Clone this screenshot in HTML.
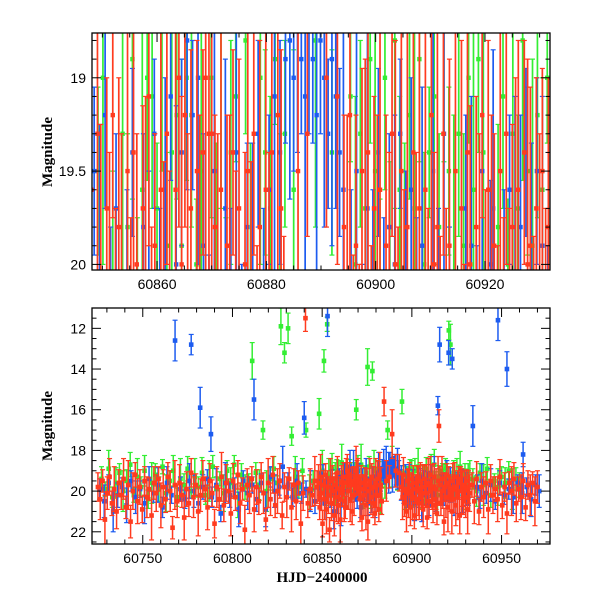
<!DOCTYPE html>
<html><head><meta charset="utf-8"><style>
html,body{margin:0;padding:0;background:#fff;width:600px;height:600px;overflow:hidden;position:relative;}
svg{display:block;position:absolute;left:0;top:0;overflow:hidden;}
.tl{font-family:"Liberation Sans",sans-serif;font-size:14px;fill:#000;}
.ti{font-family:"Liberation Serif",serif;font-weight:bold;font-size:15px;fill:#000;}
</style></head><body>
<svg id="chart" width="600" height="600" viewBox="0 0 600 600" xmlns="http://www.w3.org/2000/svg">
<text class="ti" transform="translate(52,152) rotate(-90)" text-anchor="middle">Magnitude</text>
<text class="ti" transform="translate(52,426) rotate(-90)" text-anchor="middle">Magnitude</text>
<text class="ti" x="322" y="582" text-anchor="middle">HJD−2400000</text>
</svg>
<script>
// Times are HJD-2400000 offsets from 60700
const timeBase=60700;
const redT=("25 26.3 27.6 28.9 30.2 31.5 32.8 34.1 35.4 36.7 38 39.3 40.6 41.9 43.2 44.5 45.8 47.1 48.4 49.7 51 52.3 53.6 54.9 56.2 57.5 58.8 60.1 61.4 62.7 64 65.3 66.6 67.9 69.2 70.5 71.8 73.1 74.4 75.7 77 78.3 79.6 80.9 82.2 83.5 84.8 86.1 87.4 88.7 90 91.3 92.6 93.9 95.2 96.5 97.8 99.1 100.4 101.7 103 104.3 105.6 106.9 108.2 109.5 110.8 112.1 113.4 114.7 116 117.3 118.6 119.9 121.2 122.5 123.8 125.1 126.4 127.7 129 130.3 131.6 132.9 134.2 135.5 136.8 138.1 139.4 140.7 142 143.3 144.6 145.9 147.2 "+
"148 148.6 149.1 149.7 150.2 150.8 151.3 151.9 152.4 153 153.5 154.1 154.6 155.2 155.7 156.3 156.8 157.4 157.9 158.5 159 159.6 160.1 160.7 161.2 161.8 162.3 162.9 163.4 164 164.5 165.1 165.6 166.2 166.7 167.3 167.8 168.4 168.9 169.5 170 170.6 171.1 171.7 172.2 172.8 173.3 173.9 174.4 175 175.5 176.1 176.6 177.2 177.7 178.3 178.8 179.4 179.9 180.5 181 181.6 182.1 182.7 183.2 184.5 185.8 187.5 189 191 193 194.2 194.8 195.3 195.9 196.4 197 197.5 198.1 198.6 199.2 199.7 200.3 200.8 201.4 201.9 202.5 203 203.6 204.1 204.7 205.2 205.8 206.3 206.9 207.4 208 208.5 209.1 209.6 210.2 210.7 211.3 211.8 212.4 212.9 213.5 214 214.6 215.1 215.7 216.2 216.8 217.3 217.9 218.4 219 219.5 220.1 220.6 221.2 221.7 222.3 222.8 223.4 223.9 224.5 225 225.6 226.1 226.7 227.2 227.8 228.3 228.9 229.4 230 230.5 231.1 231.6 232.2 "+
"233.5 234.8 236.1 237.4 238.7 240 241.3 242.6 243.9 245.2 246.5 247.8 249.1 250.4 251.7 253 254.3 255.6 256.9 258.2 259.5 260.8 262.1 263.4 264.7 266 267.3 268.6 270").split(" ").map(Number);
const redM=("19.8 20.4 19.5 21.4 20.1 19.3 20.6 19.9 21.0 19.6 20.2 19.4 20.8 19.7 21.5 20.0 19.2 20.5 19.8 20.9 19.5 20.3 19.9 21.2 19.6 20.1 19.4 20.7 19.8 20.4 19.3 20.0 21.8 19.7 20.5 19.6 20.2 21.3 19.9 20.6 19.1 20.3 19.7 21.0 20.2 19.4 19.9 20.8 19.5 20.1 21.6 19.8 20.4 19.3 20.7 19.6 20.0 21.1 19.5 20.3 19.2 20.6 19.9 21.9 19.7 20.2 19.4 20.9 19.8 20.5 19.3 20.1 21.4 19.6 20.4 19.2 20.7 20.0 19.5 21.2 19.8 20.3 19.4 20.8 19.7 20.5 19.6 21.6 20.1 11.5 20.6 19.9 20.2 19.5 19.8 "+
"19.6 20.8 19.3 20.1 21.6 19.7 20.4 19.2 20.9 19.8 20.2 21.9 19.5 20.6 19.4 20.0 21.2 19.7 20.3 19.1 20.7 19.9 21.4 19.6 20.1 19.3 20.5 20.8 19.6 19.0 20.0 19.2 20.4 19.7 21.0 19.5 20.2 19.4 19.0 19.3 19.3 19.8 20.4 19.6 21.3 19.9 20.2 19.4 20.7 19.7 21.5 20.0 19.5 20.3 19.3 20.6 19.8 21.1 19.6 20.2 19.4 20.9 19.2 19.7 20.5 15.6 19.5 19.3 17.2 19.0 19.1 19.8 20.3 19.2 20.6 19.9 21.0 19.5 20.1 19.4 20.8 19.7 20.3 19.6 21.2 19.9 20.4 19.3 20.0 20.6 19.5 20.2 19.8 20.9 19.4 20.1 19.7 21.3 19.6 20.5 19.2 20.0 19.8 20.7 19.3 20.4 19.9 21.1 19.5 16.8 19.7 20.6 19.4 20.0 21.5 19.8 20.3 19.2 20.8 19.6 20.1 19.9 21.0 19.5 20.4 19.3 20.7 19.8 20.2 19.6 21.2 19.4 20.0 19.9 20.5 19.7 20.3 19.5 20.9 19.8 20.1 "+
"19.7 20.5 19.4 21.0 19.8 20.3 19.6 20.9 19.5 20.2 19.9 20.4 19.3 20.7 19.8 21.1 19.6 20.0 19.4 20.6 19.9 20.3 19.5 20.8 19.7 20.2 19.6 20.5 19.8").split(" ").map(Number);
const redE=[0.7,1.0,0.55,1.2,0.8,0.9,0.6,1.1,0.85,0.65];

const greenT=("27 29 31 33 35 37 39 41 43 45 47 49 51 53 55 57 59 61 63 65 67 69 71 73 75 77 79 81 83 85 87 89 91 93 95 97 99 101 103 105 107 109 111 113 115 117 119 121 123 125 127 129 131 133 135 137 139 141 143 145 "+
"148.3 149.2 150.1 151 151.9 152.8 153.7 154.6 155.5 156.4 157.3 158.2 159.1 160 160.9 161.8 162.7 163.6 164.5 165.4 166.3 167.2 168.1 169 169.9 170.8 171.7 172.6 173.5 174.4 175.3 176.2 177.1 178 178.9 179.8 180.7 181.6 182.5 183.4 185 186.5 189 192 194.5 195.4 196.3 197.2 198.1 199 199.9 200.8 201.7 202.6 203.5 204.4 205.3 206.2 207.1 208 208.9 209.8 210.7 211.6 212.5 213.4 214.3 215.2 216.1 217 217.9 218.8 219.7 220.6 221.5 222.4 223.3 224.2 225.1 226 226.9 227.8 228.7 229.6 230.5 231.4 232.3 "+
"234 236 238 240 242 244 246 248 250 252 254 256 258 260").split(" ").map(Number);
const greenM=("19.4 19.9 18.9 20.3 19.6 19.1 20.0 19.5 18.7 20.2 19.3 19.8 19.0 20.4 19.6 19.2 19.9 18.8 20.1 19.5 19.0 20.3 19.4 19.7 18.9 20.0 19.3 19.8 19.1 20.2 19.5 18.8 19.9 19.4 20.1 19.0 19.6 18.7 20.3 19.2 19.8 19.5 13.6 19.1 19.7 17.0 20.0 19.4 18.9 19.6 11.9 13.2 12.0 17.3 19.3 19.8 19.0 17.0 20.1 19.5 "+
"16.2 19.5 19.0 13.6 20.1 11.8 19.3 19.8 18.9 20.2 19.6 19.0 19.1 19.7 18.6 19.9 19.4 19.2 19.9 19.0 19.2 20.0 19.5 16.0 19.0 19.8 18.7 20.3 19.4 19.1 13.9 18.8 20.1 14.1 19.0 19.4 19.7 18.9 20.2 19.3 19.6 17.0 18.8 19.4 15.6 19.1 20.0 19.3 19.7 18.9 19.5 20.2 19.0 19.8 18.8 19.6 20.1 19.2 19.7 18.9 20.0 19.4 19.1 19.8 18.7 19.5 20.2 19.3 19.9 19.0 19.6 18.9 19.4 12.1 12.8 19.8 19.1 20.0 19.3 19.7 18.8 19.5 19.9 19.2 19.6 19.0 19.4 "+
"19.4 20.0 19.1 19.7 18.9 20.2 19.5 19.8 19.3 19.6 19.0 19.9 19.4 19.7").split(" ").map(Number);
const greenE=[0.6,0.35,0.9,0.5,0.75,0.45,1.0,0.55];

const blueT=("26 28.5 31 33.5 36 38.5 41 43.5 46 48.5 51 53.5 56 58.5 61 63.5 66 68 71 73.5 76 77 78.5 81 82 83.5 86 88 88.5 91 93.5 96 98.5 101 103.5 106 108.5 111 112 113.5 116 118.5 121 123.5 126 128 131 133.5 136 138.5 140 141 143.5 146 "+
"148.5 149.5 150.5 151.5 152.5 153 154.5 155.5 156.5 157.5 158.5 159.5 160.5 161.5 162.5 163.5 164.5 165.5 166.5 167.5 168.5 169.5 170.5 171.5 172.5 173.5 174.5 175.5 176.5 177.5 178.5 179.5 180.5 181.5 182.5 183.5 184.3 185 185.7 186.4 187.1 187.8 188.5 189.2 189.9 190.6 191.3 192 192.7 193.4 194.1 195.5 196.5 197.5 198.5 199.5 200.5 201.5 202.5 203.5 204.5 205.5 206.5 207.5 208.5 209.5 210.5 211.5 212.5 213.5 214.5 215.5 216.5 217.5 218.5 219.5 220.5 221 221.5 222.5 223.5 224.5 225.5 226.5 227.5 228.5 229.5 230.5 231.5 "+
"234 236.5 238 239 241.5 244 246.5 248 249 251.5 253 254 256.5 259 261.5 262 264 266.5 269 271").split(" ").map(Number);
const blueM=("19.9 20.5 19.6 21.0 20.2 19.8 20.7 19.5 20.3 19.9 20.6 19.4 20.1 19.7 20.8 19.6 20.2 12.6 19.9 20.4 19.5 12.8 20.0 20.6 15.9 19.8 19.4 17.2 20.3 19.7 21.1 19.6 20.2 19.8 20.9 19.5 20.1 19.7 15.5 20.4 19.6 20.9 19.3 20.0 19.8 18.8 19.7 20.3 19.5 20.1 16.4 19.9 20.0 20.5 "+
"19.5 20.1 19.2 20.6 19.7 11.4 20.2 19.4 21.0 19.8 20.3 19.3 20.7 19.6 19.1 20.0 19.4 18.8 19.2 19.0 19.9 20.4 19.5 20.8 19.7 20.1 19.4 20.6 19.8 20.2 19.3 20.5 19.6 19.1 19.4 18.9 18.8 19.0 18.6 18.9 19.1 18.7 18.9 19.2 18.8 19.0 19.3 18.9 19.1 19.4 19.6 20.1 19.5 20.4 19.7 20.2 19.4 20.6 19.8 20.0 19.3 20.5 19.6 20.2 19.9 20.7 19.5 20.1 19.3 20.4 15.8 12.8 19.7 19.9 20.3 19.5 13.2 20.0 19.7 13.5 20.4 19.6 20.1 19.8 19.4 20.2 19.5 19.9 20.3 "+
"16.8 19.8 20.4 19.5 20.1 19.7 20.5 11.6 19.6 20.2 14.0 19.9 20.3 19.6 20.1 18.2 19.8 20.4 19.7 20.0").split(" ").map(Number);
const blueE=[0.5,0.8,0.4,1.0,0.6,0.45,0.85];

const topXTicks=[60860,60880,60900,60920];
const topYTicks=[19,19.5,20];
const botXTicks=[60750,60800,60850,60900,60950];
const botYTicks=[12,14,16,18,20,22];

const svg=document.getElementById('chart');
const NS='http://www.w3.org/2000/svg';
function mk(tag,attrs,parent){const e=document.createElementNS(NS,tag);for(const k in attrs)e.setAttribute(k,attrs[k]);(parent||svg).appendChild(e);return e;}

const panels=[
 {name:'top',x0:92,x1:550,y0:33,y1:270,d0:60848.1,d1:60931.9,m0:18.76,m1:20.03,xt:topXTicks,yt:topYTicks,xmin:5,ymin:0.1,lw:1.7,ms:2.2,labels:['19','19.5','20']},
 {name:'bottom',x0:92,x1:550,y0:308,y1:544,d0:60721.7,d1:60977,m0:11.0,m1:22.6,xt:botXTicks,yt:botYTicks,xmin:10,ymin:0.5,lw:1.5,ms:2.3,labels:null}
];
const series=[
 {name:'green',col:'#33ee33',t:greenT,m:greenM,e:greenE},
 {name:'blue',col:'#1d5cf0',t:blueT,m:blueM,e:blueE},
 {name:'red',col:'#ff3b1f',t:redT,m:redM,e:redE}
];
panels.forEach(p=>{
 const xs=d=>p.x0+(d-p.d0)/(p.d1-p.d0)*(p.x1-p.x0);
 const ys=m=>p.y0+(m-p.m0)/(p.m1-p.m0)*(p.y1-p.y0);
 const cid='clip-'+p.name;
 const defs=mk('defs',{});
 const cp=mk('clipPath',{id:cid},defs);
 mk('rect',{x:p.x0,y:p.y0,width:p.x1-p.x0,height:p.y1-p.y0},cp);
 const g=mk('g',{'clip-path':'url(#'+cid+')'});
 
 
 series.forEach(s=>{
  const sg=mk('g',{fill:s.col,stroke:s.col},g);
  
  
  const n=Math.min(s.t.length,s.m.length);
  for(let i=0;i<n;i++){
   const d=timeBase+s.t[i];
   const x=xs(d),y=ys(s.m[i]);const err=s.e[i%s.e.length];
   const ya=Math.max(ys(s.m[i]-err),p.y0-5),yb=Math.min(ys(s.m[i]+err),p.y1+5);
   if(x<p.x0-10||x>p.x1+10)continue;
   const pt=mk('g',{},sg);
   
   
   mk('line',{x1:x,y1:ya,x2:x,y2:yb,'stroke-width':p.lw},pt);
   mk('line',{x1:x-2.5,y1:ya,x2:x+2.5,y2:ya,'stroke-width':1.2},pt);
   mk('line',{x1:x-2.5,y1:yb,x2:x+2.5,y2:yb,'stroke-width':1.2},pt);
   mk('rect',{x:x-p.ms,y:y-p.ms,width:2*p.ms,height:2*p.ms,stroke:'none'},pt);
  }
 });
 const fr=mk('rect',{x:p.x0,y:p.y0,width:p.x1-p.x0,height:p.y1-p.y0,fill:'none',stroke:'#000','stroke-width':1.3});
 
 
 const ax=mk('g',{stroke:'#000','stroke-width':1});
 
 
 for(let d=Math.ceil(p.d0/p.xmin)*p.xmin;d<=p.d1;d+=p.xmin){
  const x=xs(d);const major=p.xt.includes(d);const L=major?9:4.5;
  mk('line',{x1:x,y1:p.y1,x2:x,y2:p.y1-L},ax);mk('line',{x1:x,y1:p.y0,x2:x,y2:p.y0+L},ax);
 }
 for(let k=Math.ceil(p.m0/p.ymin);k*p.ymin<=p.m1+1e-9;k++){
  const m=+(k*p.ymin).toFixed(3);const y=ys(m);const major=p.yt.some(v=>Math.abs(v-m)<1e-6);const L=major?9:4.5;
  mk('line',{x1:p.x0,y1:y,x2:p.x0+L,y2:y},ax);mk('line',{x1:p.x1,y1:y,x2:p.x1-L,y2:y},ax);
 }
 p.xt.forEach(d=>{const t=mk('text',{class:'tl',x:xs(d),y:p.y1+19,'text-anchor':'middle'});t.textContent=String(d);
  
  });
 p.yt.forEach((m,i)=>{const t=mk('text',{class:'tl',x:p.x0-6,y:ys(m)+5,'text-anchor':'end'});t.textContent=p.labels?p.labels[i]:String(m);
  
  });
});
</script>
</body></html>
